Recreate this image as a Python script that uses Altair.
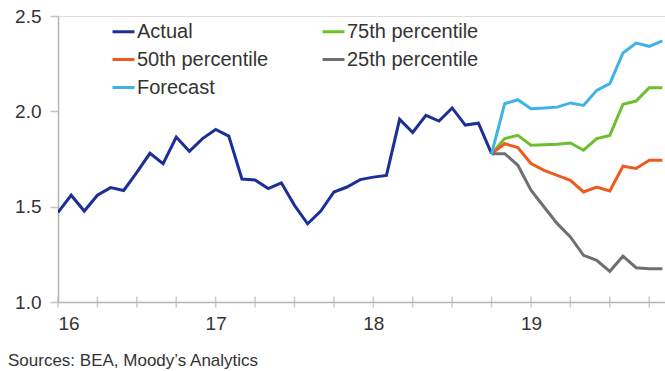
import altair as alt
import pandas as pd

# month index: 0 = Jan 2016
actual_months = list(range(0, 34))
actual = [1.47, 1.56, 1.477, 1.56, 1.60, 1.585, 1.68, 1.78, 1.725, 1.865, 1.79, 1.857,
          1.905, 1.87, 1.645, 1.64, 1.595, 1.625, 1.507, 1.41, 1.477, 1.577, 1.603, 1.642,
          1.655, 1.664, 1.958, 1.889, 1.979, 1.949, 2.018, 1.928, 1.938, 1.778]

fc_months = list(range(33, 47))
forecast = [1.778, 2.04, 2.061, 2.014, 2.017, 2.022, 2.044, 2.031, 2.11, 2.145, 2.306, 2.358, 2.341, 2.369]
p75 = [1.778, 1.857, 1.874, 1.822, 1.825, 1.827, 1.834, 1.796, 1.857, 1.874, 2.037, 2.054, 2.124, 2.124]
p50 = [1.778, 1.83, 1.81, 1.726, 1.69, 1.664, 1.638, 1.577, 1.603, 1.582, 1.712, 1.70, 1.743, 1.743]
p25 = [1.778, 1.778, 1.717, 1.586, 1.498, 1.411, 1.341, 1.245, 1.219, 1.161, 1.24, 1.18, 1.175, 1.175]

# legend fills column by column
legend_order = ["Actual", "50th percentile", "Forecast", "75th percentile", "25th percentile"]
legend_colors = ["#1b2f97", "#ef5a1e", "#3fb2ea", "#6cbf2f", "#707070"]

quarter_ticks = list(range(0, 47, 3))

rows = []
for m, v in zip(actual_months, actual):
    rows.append({"month": m, "value": v, "series": "Actual", "ord": 0})
for name, vals, o in [("75th percentile", p75, 1), ("50th percentile", p50, 2),
                      ("25th percentile", p25, 3), ("Forecast", forecast, 4)]:
    for m, v in zip(fc_months, vals):
        rows.append({"month": m, "value": v, "series": name, "ord": o})
df = pd.DataFrame(rows)
ticks_df = pd.DataFrame({"month": quarter_ticks})

xscale = alt.Scale(domain=[0, 46.2], nice=False, zero=False)
yscale = alt.Scale(domain=[1.0, 2.5], nice=False, zero=False)

lines = alt.Chart(df).mark_line(strokeWidth=3, clip=True).encode(
    x=alt.X("month:Q", scale=xscale,
            axis=alt.Axis(values=quarter_ticks, ticks=False, grid=False, title=None,
                          labelExpr="datum.value % 12 == 0 ? toString(16 + datum.value / 12) : ''",
                          labelFontSize=19, labelColor="#333333", labelPadding=12,
                          labelFont="Liberation Sans", domainColor="#b5b5b5", domainWidth=1.5)),
    y=alt.Y("value:Q", scale=yscale,
            axis=alt.Axis(values=[1.0, 1.5, 2.0, 2.5], format=".1f", title=None,
                          tickSize=8, tickColor="#c4c4c4", tickWidth=1.5,
                          gridColor="#d2d2d2", gridWidth=1.5,
                          labelFontSize=19, labelColor="#333333", labelPadding=9,
                          labelFont="Liberation Sans", domainColor="#b5b5b5", domainWidth=1.5)),
    color=alt.Color("series:N", sort=legend_order,
                    scale=alt.Scale(domain=legend_order, range=legend_colors),
                    legend=alt.Legend(orient="none", legendX=53, legendY=3, title=None,
                                      columns=2, symbolType="stroke", symbolSize=484,
                                      symbolStrokeWidth=3, labelOffset=1, labelFontSize=20,
                                      labelFont="Liberation Sans", labelColor="#333333",
                                      columnPadding=47, rowPadding=5, padding=0)),
    order=alt.Order("ord:Q"),
    detail="series:N",
)

tick_marks = alt.Chart(ticks_df).mark_tick(color="#b5b5b5", thickness=1.5, size=11).encode(
    x=alt.X("month:Q", scale=xscale),
    y=alt.datum(1.0, scale=yscale),
)

chart = alt.layer(tick_marks, lines).properties(
    width=607, height=286,
    padding={"left": 58, "top": 16, "right": 0, "bottom": 69},
    autosize=alt.AutoSizeParams(type="none"),
    title=alt.TitleParams("Sources: BEA, Moody\u2019s Analytics", orient="bottom", anchor="start",
                          frame="group", dx=-50, offset=20, fontSize=17, fontWeight="normal",
                          font="Liberation Sans", color="#333333"),
).configure_view(stroke=None).configure(background="white")

chart.save("out.html", embed_options={"renderer": "svg", "actions": False})
